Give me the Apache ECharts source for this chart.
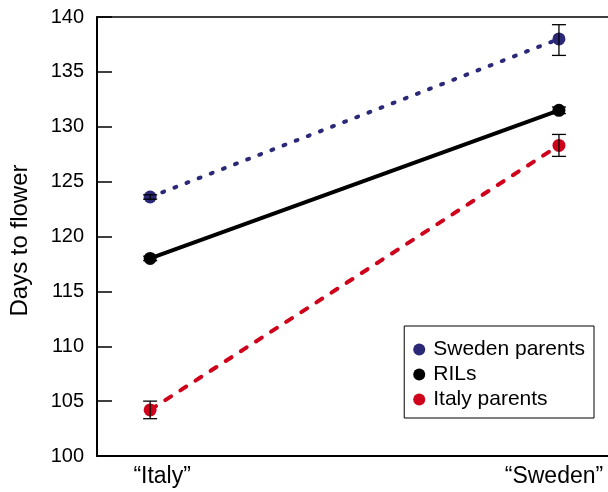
<!DOCTYPE html>
<html><head><meta charset="utf-8">
<script src="https://cdn.jsdelivr.net/npm/echarts@6/dist/echarts.min.js"></script>
<style>html,body{margin:0;padding:0;background:#fff}#c{width:608px;height:492px}</style>
</head><body><div id="c"></div>
<script>
const categories = ['\u201cItaly\u201d', '\u201cSweden\u201d'];
const catPos = [0, 1];
const yTicks = [100, 105, 110, 115, 120, 125, 130, 135, 140];
const swedenParents = [123.6, 138.0];
const swedenParentsLow = [123.4, 136.5];
const swedenParentsHigh = [123.8, 139.3];
const rils = [118.0, 131.5];
const rilsLow = [117.8, 131.2];
const rilsHigh = [118.2, 131.8];
const italyParents = [104.2, 128.3];
const italyParentsLow = [103.4, 127.3];
const italyParentsHigh = [105.0, 129.3];

const NAVY = '#2b2878', BLACK = '#000000', RED = '#d0021b';
const FONT = '"Liberation Sans", Arial, Helvetica, sans-serif';

function pts(vals){ return vals.map((v,i)=>[catPos[i], v]); }
function errData(lo, hi){ return lo.map((l,i)=>[catPos[i], l, hi[i]]); }
function errSeries(lo, hi){
  return {
    type:'custom', silent:true, z:5,
    data: errData(lo, hi),
    renderItem: function(params, api){
      const x = api.value(0);
      const p1 = api.coord([x, api.value(1)]);
      const p2 = api.coord([x, api.value(2)]);
      const w = 7;
      const st = {stroke:'#000', lineWidth:1.3};
      return {type:'group', children:[
        {type:'line', shape:{x1:p1[0],y1:p1[1],x2:p2[0],y2:p2[1]}, style:st},
        {type:'line', shape:{x1:p1[0]-w,y1:p1[1],x2:p1[0]+w,y2:p1[1]}, style:st},
        {type:'line', shape:{x1:p2[0]-w,y1:p2[1],x2:p2[0]+w,y2:p2[1]}, style:st}
      ]};
    }
  };
}

const chart = echarts.init(document.getElementById('c'));
chart.setOption({
  animation:false,
  backgroundColor:'#fff',
  grid:{left:95, right:0, top:17, bottom:36},
  legend:{
    right:14, bottom:74, orient:'vertical', itemWidth:12, itemHeight:12, itemGap:4,
    padding:[13,9,8,9],
    borderColor:'#000', borderWidth:1, backgroundColor:'#fff',
    icon:'circle',
    textStyle:{fontSize:21, color:'#000', fontFamily:FONT, padding:[0,0,0,3]},
    data:['Sweden parents','RILs','Italy parents']
  },
  xAxis:[{
    type:'value', min:-0.13, max:1.12,
    axisLine:{show:true, onZero:false, lineStyle:{color:'#000', width:2}},
    axisTick:{show:false},
    splitLine:{show:false},
    axisLabel:{customValues:catPos,
      formatter:function(v){const i=catPos.indexOf(v); if(i<0) return ''; return (i===0?'{a|':'{b|')+categories[i]+'}';},
      rich:{a:{fontSize:23, color:'#000', fontFamily:FONT, padding:[0,0,0,24]},
            b:{fontSize:23, color:'#000', fontFamily:FONT, padding:[0,10,0,0]}},
      fontSize:23, color:'#000', fontFamily:FONT, margin:9}
  },{
    type:'value', position:'top', min:-0.13, max:1.12,
    axisLine:{show:true, onZero:false, lineStyle:{color:'#000', width:1.5}},
    axisTick:{show:false}, axisLabel:{show:false}, splitLine:{show:false}
  }],
  yAxis:{
    type:'value', min:100, max:140, interval:5,
    name:'Days to flower', nameLocation:'middle', nameGap:65,
    nameTextStyle:{fontSize:24, color:'#000', fontFamily:FONT, padding:[0,8,0,0]},
    axisLine:{show:true, onZero:false, lineStyle:{color:'#000', width:2}},
    axisTick:{show:true, inside:true, length:15, lineStyle:{color:'#000', width:1.5}},
    splitLine:{show:false},
    axisLabel:{fontSize:20, color:'#000', fontFamily:FONT, margin:13}
  },
  series:[
    {name:'Sweden parents', type:'line', data:pts(swedenParents), symbol:'circle', symbolSize:13,
      itemStyle:{color:NAVY}, lineStyle:{color:NAVY, width:4, type:[2,11], cap:'round'}, z:3},
    {name:'RILs', type:'line', data:pts(rils), symbol:'circle', symbolSize:13,
      itemStyle:{color:BLACK}, lineStyle:{color:BLACK, width:4}, z:3},
    {name:'Italy parents', type:'line', data:pts(italyParents), symbol:'circle', symbolSize:13,
      itemStyle:{color:RED}, lineStyle:{color:RED, width:4, type:[7,11], cap:'round'}, z:3},
    errSeries(swedenParentsLow, swedenParentsHigh),
    errSeries(rilsLow, rilsHigh),
    errSeries(italyParentsLow, italyParentsHigh)
  ]
});
</script></body></html>
